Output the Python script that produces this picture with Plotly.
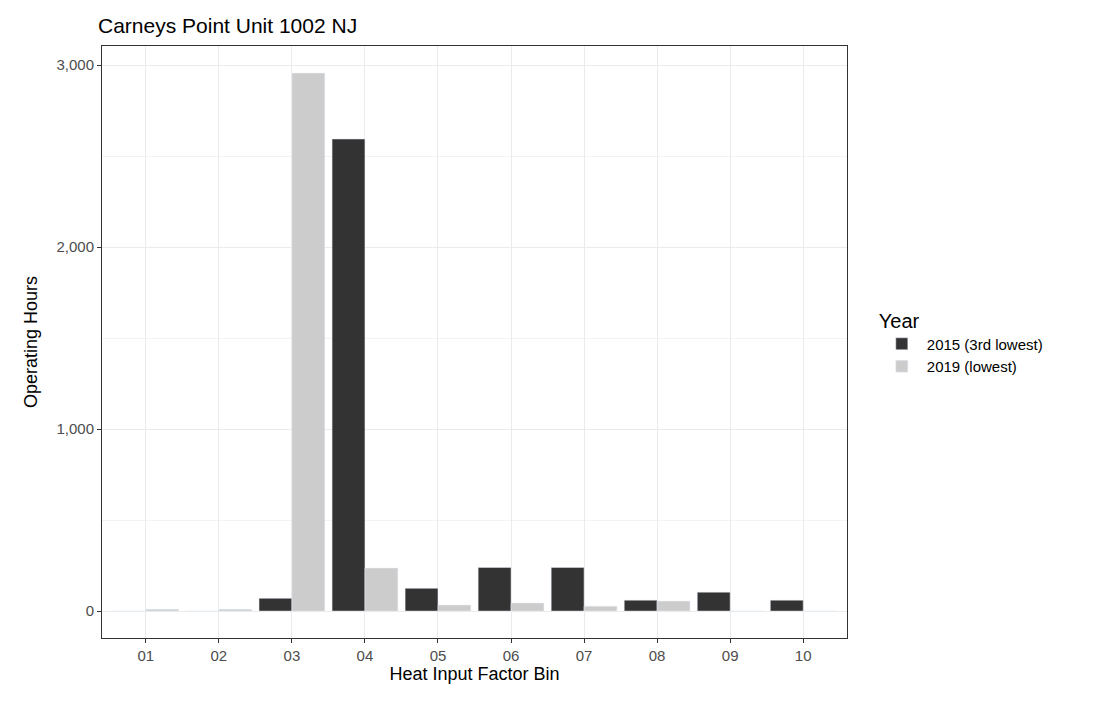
import plotly.graph_objects as go

bins = ["01","02","03","04","05","06","07","08","09","10"]
y2015 = [0, 0, 70, 2594, 125, 240, 240, 60, 104, 60]
y2019 = [10, 10, 2956, 236, 33, 44, 27, 55, 0, 0]

fig = go.Figure()
fig.add_bar(x=bins, y=y2015, name="2015 (3rd lowest)", marker_color="#333333")
fig.add_bar(x=bins, y=y2019, name="2019 (lowest)", marker_color="#cccccc")

axis_common = dict(showline=True, linecolor="#333333", linewidth=1, mirror=True,
                   gridcolor="#ebebeb", ticks="outside", tickcolor="#333333", ticklen=4,
                   tickfont=dict(size=15, color="#4d4d4d"), zeroline=False)
fig.update_layout(
    width=1095, height=704, barmode="group", bargap=0.1, bargroupgap=0,
    plot_bgcolor="white", paper_bgcolor="white",
    font=dict(family="Liberation Sans, Arial", color="black"),
    title=dict(text="Carneys Point Unit 1002 NJ", x=90/1095, xanchor="left", y=0.985,
               font=dict(size=21)),
    margin=dict(l=94, r=256, t=38, b=74),
    xaxis=dict(title=dict(text="Heat Input Factor Bin", font=dict(size=18), standoff=4),
               range=[-0.6, 9.6], **axis_common),
    yaxis=dict(title=dict(text="Operating Hours", font=dict(size=18), standoff=14),
               range=[-148, 3105], tickvals=[0, 1000, 2000, 3000], tickformat=",",
               **axis_common),
    legend=dict(x=1.04, y=0.5, yanchor="middle", font=dict(size=15),
                tracegroupgap=0, itemwidth=40,
                title=dict(text="Year", font=dict(size=20))),
)
fig.update_yaxes(minor=dict(tickvals=[500, 1500, 2500], showgrid=True, gridcolor="#f3f3f3", ticks=""))
fig.write_html("out.html")
